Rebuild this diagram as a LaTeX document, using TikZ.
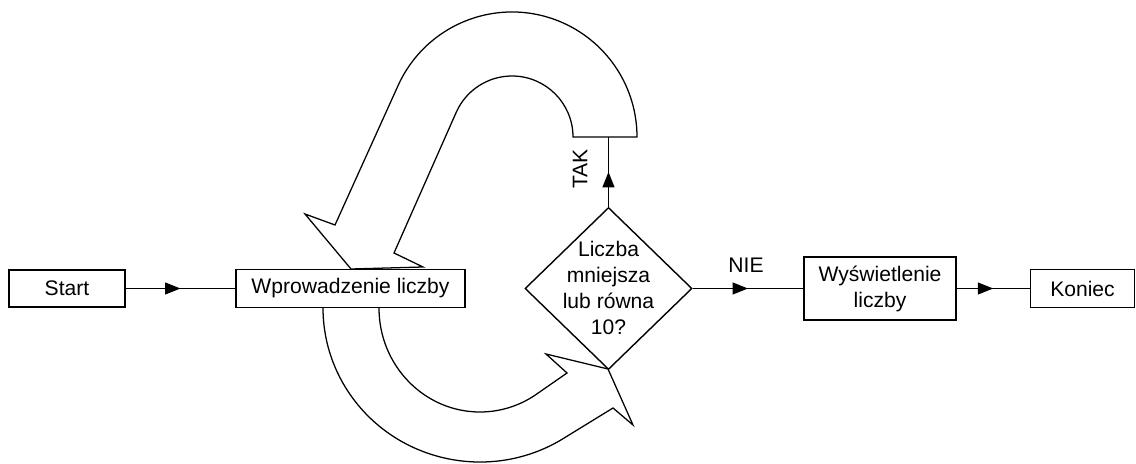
\documentclass[tikz,border=0pt]{standalone}
\usepackage{fontspec}
\setmainfont{Liberation Sans}
\usetikzlibrary{arrows.meta,decorations.markings,shapes.geometric}
\begin{document}
\begin{tikzpicture}[x=0.025cm,y=0.025cm,
  every node/.style={font=\fontsize{15}{18.5}\selectfont},
  box/.style={draw, line width=1.1pt, fill=white, inner sep=0pt},
  flow/.style={line width=1pt, postaction={decorate},
    decoration={markings, mark=at position 0.5 with {\arrow{Triangle[length=11pt,width=8.5pt]}}}},
  blockarrow/.style={draw, line width=0.9pt, fill=white, line join=miter}
]
\useasboundingbox (0,0) rectangle (1136,-464);
% curved block arrows
\draw[blockarrow] (573,-137) arc[start angle=0,end angle=156,radius=61]
  -- (394,-253) -- (423,-267) -- (351,-269) -- (305,-214) -- (335,-225)
  -- ([shift={(512,-137)}]155.6:125) arc[start angle=155.6,end angle=0,radius=125] -- cycle;
\draw[blockarrow] (379,-300) -- (379,-308) arc[start angle=180,end angle=303,x radius=101,y radius=104]
  -- (567,-373) -- (546,-354) -- (608,-369) -- (633,-425) -- (613,-408)
  -- ([shift={(480,-308)}]303:157 and 154) arc[start angle=303,end angle=180,x radius=157,y radius=154]
  -- (323,-300) -- cycle;
% nodes
\node[box, minimum width=2.9cm, minimum height=0.925cm] (start) at (67,-288.5) {Start};
\node[box, minimum width=5.725cm, minimum height=0.95cm] (wpr) at (350.5,-288.5) {Wprowadzenie liczby};
\node[draw, diamond, line width=1pt, fill=white, minimum width=4.175cm, minimum height=4.05cm, inner sep=0pt] (dec) at (608.5,-288.5) {};
\node[align=center] (dectext) at (608.5,-288) {Liczba\\mniejsza\\lub równa\\10?};
\node[box, align=center, minimum width=3.8cm, minimum height=1.575cm] (wys) at (880,-288.5) {Wyświetlenie\\liczby};
\node[box, minimum width=2.6cm, minimum height=0.95cm] (kon) at (1082.5,-288.5) {Koniec};
\coordinate (takend) at (608.5,-137);
% connectors
\draw[flow] (start) -- (wpr);
\draw[flow] (dec) -- (wys);
\draw[flow] (wys) -- (kon);
\draw[flow] (dec.north) -- (takend);
% labels
\node[rotate=90] (tak) at (580,-169) {TAK};
\node (nie) at (746,-265) {NIE};
\end{tikzpicture}
\end{document}
